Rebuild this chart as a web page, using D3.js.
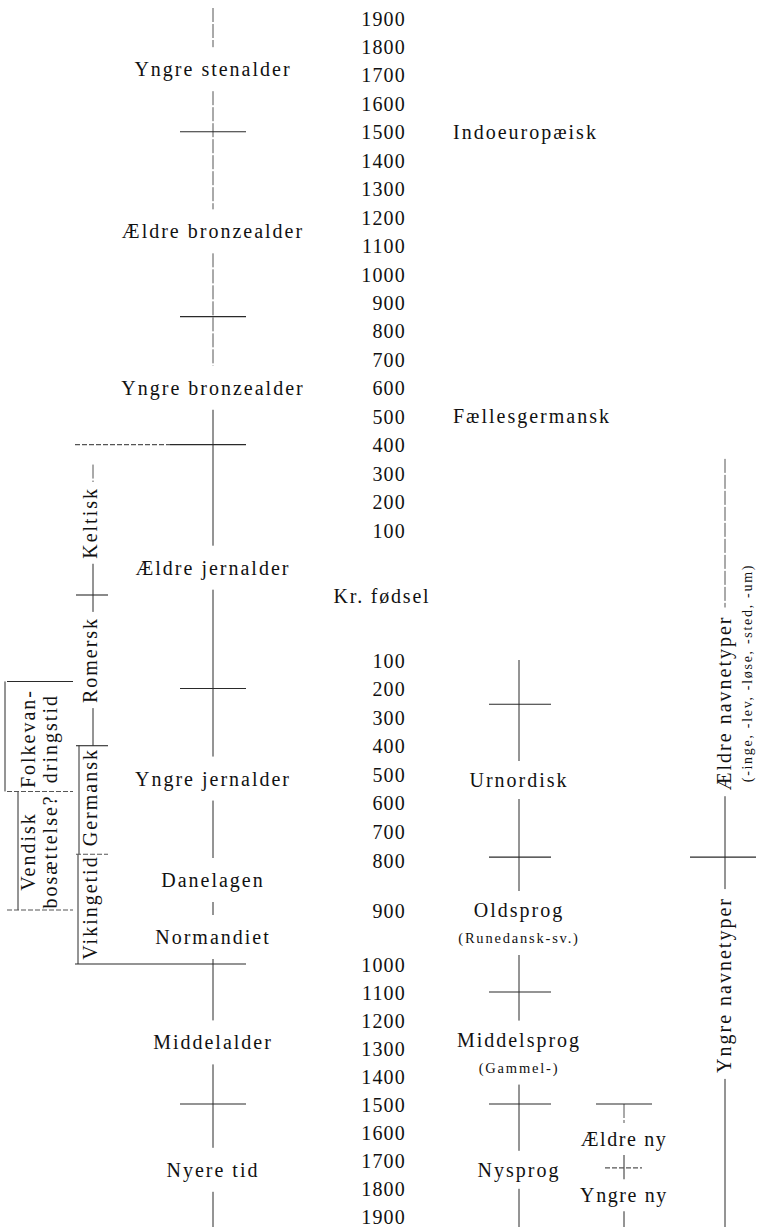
<!DOCTYPE html>
<html>
<head>
<meta charset="utf-8">
<script src="https://cdn.jsdelivr.net/npm/d3@7"></script>
<style>
  body { margin: 0; background: #fff; }
  text { font-family: "Liberation Serif", "Times New Roman", serif; fill: #111; }
</style>
</head>
<body>
<svg width="760" height="1227"></svg>
<script>
// year labels (f.Kr. / e.Kr.)
const bcYears = [1900, 1800, 1700, 1600, 1500, 1400, 1300, 1200, 1100, 1000, 900, 800, 700, 600, 500, 400, 300, 200, 100]
const adYears = [100, 200, 300, 400, 500, 600, 700, 800, 900, 1000, 1100, 1200, 1300, 1400, 1500, 1600, 1700, 1800, 1900]

// archaeological periods (negative = f.Kr.)
const archLabels = ['Yngre stenalder', 'Ældre bronzealder', 'Yngre bronzealder', 'Ældre jernalder', 'Yngre jernalder', 'Danelagen', 'Normandiet', 'Middelalder', 'Nyere tid']
const archYears = [-1720, -1150, -600, -42, 515, 840, 950, 1280, 1735]
const archBreaks = [-1500, -850, -400, 200, 1000, 1500]

// cultural influence column
const inflLabels = ['Keltisk', 'Romersk', 'Germansk', 'Vikingetid']
const inflYears = [-125, 100, 580, 895]
const inflBreaks = [0, 400, 780]

// migration column (two-line labels)
const migLabels = [['Folkevan-', 'dringstid'], ['Vendisk', 'bosættelse?']]
const migYears = [375, 770]
const migBreaks = [175, 560, 900]

// language stages
const langEarly = ['Indoeuropæisk', 'Fællesgermansk']
const langEarlyYears = [-1500, -500]
const langLabels = ['Urnordisk', 'Oldsprog', 'Middelsprog', 'Nysprog']
const langSubs = ['', '(Runedansk-sv.)', '(Gammel-)', '']
const langYears = [520, 900, 1270, 1735]
const langBreaks = [255, 790, 1100, 1500]
const langStart = 100

// new danish
const nyLabels = ['Ældre ny', 'Yngre ny']
const nyYears = [1625, 1826]
const nyBreaks = [1500, 1728]

// place-name types
const nameLabels = ['Ældre navnetyper', 'Yngre navnetyper']
const nameSub = '(-inge, -lev, -løse, -sted, -um)'
const nameYears = [250, 1075]
const nameBreaks = [790]
const nameStart = -350

const svg = d3.select('svg')
const width = +svg.attr('width')
const height = +svg.attr('height')

// the printed time axis is not quite linear (gaps round Kr. fødsel and 900)
const y = d3.scaleLinear()
    .domain([-1900, -100, 100, 800, 900, 1000, 1900])
    .range([18, 530, 660, 860, 910, 964, 1216])

const ink = '#2a2a2a'
const faint = '#555'

function vline(g, x, y1, y2, dashed) {
    if (y2 - y1 < 1) return
    g.append('line')
        .attr('x1', x).attr('x2', x)
        .attr('y1', y1).attr('y2', y2)
        .attr('stroke', dashed ? faint : ink)
        .attr('stroke-width', 1)
        .attr('stroke-dasharray', dashed ? '14 2' : null)
}
function hline(g, x1, x2, yy, dashed) {
    g.append('line')
        .attr('x1', x1).attr('x2', x2)
        .attr('y1', yy).attr('y2', yy)
        .attr('stroke', dashed ? faint : ink)
        .attr('stroke-width', 1.1)
        .attr('stroke-dasharray', dashed ? '5 2' : null)
}
// draws a vertical line from top to bottom, broken where labels sit
function brokenLine(g, x, top, bottom, gaps, dashedAbove) {
    gaps = gaps.slice().sort((a, b) => a[0] - b[0])
    let cur = top
    gaps.forEach(gp => {
        vline(g, x, cur, gp[0], gp[0] <= dashedAbove)
        cur = gp[1]
    })
    vline(g, x, cur, bottom, bottom <= dashedAbove)
}
function label(g, txt, x, yy, size, spacing, anchor) {
    return g.append('text')
        .attr('x', x).attr('y', yy)
        .attr('dy', '0.35em')
        .attr('text-anchor', anchor || 'middle')
        .attr('font-size', size)
        .attr('letter-spacing', spacing)
        .text(txt)
}
function vlabel(g, txt, x, yy, size, spacing, anchor) {
    return g.append('text')
        .attr('transform', `translate(${x},${yy}) rotate(-90)`)
        .attr('dy', '0.35em')
        .attr('text-anchor', anchor || 'middle')
        .attr('font-size', size)
        .attr('letter-spacing', spacing)
        .text(txt)
}

// ---- year axis
const ticks = bcYears.map(d => -d).concat([0], adYears)
const axis = d3.axisLeft(y)
    .tickValues(ticks)
    .tickSize(0)
    .tickPadding(0)
    .tickFormat(d => d === 0 ? 'Kr. fødsel' : Math.abs(d))
const gAxis = svg.append('g')
    .attr('transform', 'translate(406,0)')
    .call(axis)
gAxis.select('.domain').remove()
gAxis.selectAll('text')
    .attr('font-size', 20)
    .attr('letter-spacing', 1.2)
    .attr('dy', '0.35em')
gAxis.selectAll('.tick').filter(d => d === 0).select('text')
    .attr('text-anchor', 'middle')
    .attr('x', -24)
    .attr('letter-spacing', 1.8)

// ---- archaeological periods
const archX = 213
const gArch = svg.append('g')
brokenLine(gArch, archX, 8, height,
    archYears.map(yr => [y(yr) - 22, y(yr) + 22]), y(-400))
archLabels.forEach((d, i) => label(gArch, d, archX, y(archYears[i]), 20, 2))
archBreaks.forEach(b => {
    if (b === -400) {
        hline(gArch, 75, 170, y(b), true)
        hline(gArch, 170, archX + 33, y(b))
    } else if (b === 1000) {
        hline(gArch, 75, archX + 33, y(b))
    } else {
        hline(gArch, archX - 33, archX + 33, y(b))
    }
})

// ---- influence column
const inflX = 90
const gInfl = svg.append('g')
const inflGaps = []
inflLabels.forEach((d, i) => {
    const t = vlabel(gInfl, d, inflX, y(inflYears[i]), 20, 2)
    const len = t.node().getComputedTextLength()
    inflGaps.push([y(inflYears[i]) - len / 2 - 5, y(inflYears[i]) + len / 2 + 5])
})
brokenLine(gInfl, inflX + 3, y(-330), y(400), inflGaps.slice(0, 2), y(-1))
vline(gInfl, inflX - 11, y(400), y(780))
vline(gInfl, inflX - 12, y(780), y(1000))
inflBreaks.forEach(b => hline(gInfl, 76, 108, y(b), b === 780))

// ---- migration column
const gMig = svg.append('g')
migLabels.forEach((pair, i) => {
    vlabel(gMig, pair[0], 28, y(migYears[i]), 20, 2)
    vlabel(gMig, pair[1], 50, y(migYears[i]), 20, 2)
})
vline(gMig, 5, y(migBreaks[0]), y(migBreaks[1]))
vline(gMig, 18, y(migBreaks[1]), y(migBreaks[2]))
migBreaks.forEach(b => hline(gMig, 7, 73, y(b), b !== migBreaks[0]))

// ---- language stages
const langX = 519
const gLang = svg.append('g')
langEarly.forEach((d, i) => label(gLang, d, 453, y(langEarlyYears[i]), 20, 2, 'start'))
const langGaps = []
langLabels.forEach((d, i) => {
    const yy = y(langYears[i])
    label(gLang, d, langX, yy, 20, 2)
    if (langSubs[i]) label(gLang, langSubs[i], langX, yy + 28, 14.5, 1.8)
    langGaps.push([yy - 19, yy + (langSubs[i] ? 45 : 19)])
})
brokenLine(gLang, langX, y(langStart), height, langGaps, 0)
langBreaks.forEach(b => hline(gLang, langX - 30, langX + 32, y(b)))

// ---- ny column
const nyX = 624
const gNy = svg.append('g')
nyLabels.forEach((d, i) => label(gNy, d, nyX, y(nyYears[i]), 20, 1.6))
brokenLine(gNy, nyX, y(nyBreaks[0]), height,
    nyYears.map(yr => [y(yr) - 16, y(yr) + 16]), y(1760))
hline(gNy, nyX - 28, nyX + 28, y(nyBreaks[0]))
hline(gNy, nyX - 19, nyX + 18, y(nyBreaks[1]), true)

// ---- place-name types
const nameX = 724
const gName = svg.append('g')
const nameGaps = []
nameLabels.forEach((d, i) => {
    const yy = y(nameYears[i])
    const t = vlabel(gName, d, nameX, yy, 20, 2)
    const len = t.node().getComputedTextLength()
    nameGaps.push([yy - len / 2 - 8, yy + len / 2 + 6])
    if (i === 0) vlabel(gName, nameSub, nameX + 23, yy + len / 2 - 8, 14, 1.7, 'start')
})
brokenLine(gName, nameX + 1, y(nameStart), height, nameGaps, y(100))
nameBreaks.forEach(b => hline(gName, nameX - 34, nameX + 32, y(b)))
</script>
</body>
</html>
